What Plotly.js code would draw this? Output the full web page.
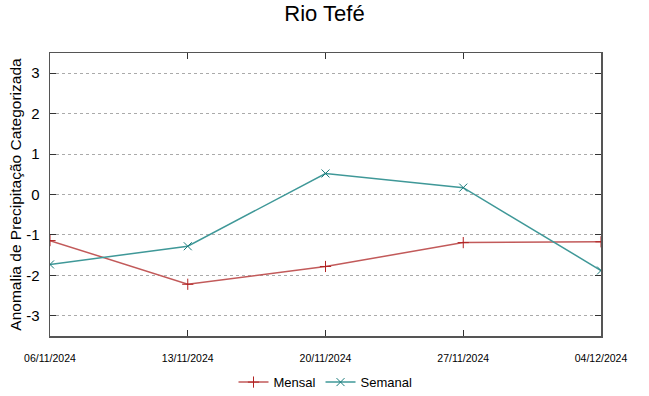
<!DOCTYPE html>
<html><head><meta charset="utf-8">
<script src="https://cdn.plot.ly/plotly-3.0.1.min.js"></script>
<style>body{margin:0;}#chart{width:649px;height:396px;}</style>
</head><body><div id="chart"></div>
<script>
const dates = ["2024-11-06","2024-11-13","2024-11-20","2024-11-27","2024-12-04"];
const mensal = [-1.14, -2.22, -1.78, -1.19, -1.17];
const semanal = [-1.73, -1.28, 0.52, 0.17, -1.88];
const yTicks = [-3,-2,-1,0,1,2,3];
const yTickLabels = ["-3","-2","-1","0","1","2","3"];

const traces = [
  {x: dates, y: mensal, name: "Mensal", type: "scatter", mode: "lines+markers",
   line: {color: "#c25a5a", width: 1.5},
   marker: {symbol: "cross-thin", size: 8, line: {color: "#b22222", width: 1}}},
  {x: dates, y: semanal, name: "Semanal", type: "scatter", mode: "lines+markers",
   line: {color: "#3f9898", width: 1.5},
   marker: {symbol: "x-thin", size: 8, line: {color: "#1a7a7a", width: 1}}}
];
const layout = {
  width: 649, height: 396,
  margin: {l: 50, r: 48, t: 53, b: 60, autoexpand: false},
  paper_bgcolor: "white", plot_bgcolor: "white",
  title: {text: "Rio Tefé", x: 0.5, y: 0.985, yanchor: "top", font: {family: "Liberation Sans, Arial", size: 22, color: "#000"}},
  xaxis: {type: "date", range: [dates[0], dates[4]], tickvals: dates, tickformat: "%d/%m/%Y",
    showgrid: false, zeroline: false, showline: true, mirror: "ticks", linecolor: "#555", linewidth: 1.5,
    ticks: "inside", ticklen: 6, tickcolor: "#333", ticklabelstandoff: 12, automargin: false,
    tickfont: {family: "Liberation Sans Narrow, Liberation Sans, Arial", size: 10.5, color: "#000"}},
  yaxis: {range: [-3.5, 3.5], tickvals: yTicks, ticktext: yTickLabels, showgrid: true, gridcolor: "#aaa", griddash: "dot", gridwidth: 1,
    zeroline: false, showline: true, mirror: "ticks", linecolor: "#555", linewidth: 1.5,
    ticks: "inside", ticklen: 6, tickcolor: "#333", ticklabelstandoff: 6, automargin: false,
    tickfont: {family: "Liberation Sans, Arial", size: 15, color: "#000"},
    title: {text: "Anomalia de Precipitação Categorizada", standoff: 0, font: {family: "Liberation Sans, Arial", size: 15.5, color: "#000"}}},
  showlegend: true,
  legend: {orientation: "h", x: 0.5, xanchor: "center", y: -0.163, yanchor: "middle",
    font: {family: "Liberation Sans Narrow, Liberation Sans, Arial", size: 13, color: "#000"}}
};
Plotly.newPlot("chart", traces, layout, {staticPlot: true});
</script></body></html>
